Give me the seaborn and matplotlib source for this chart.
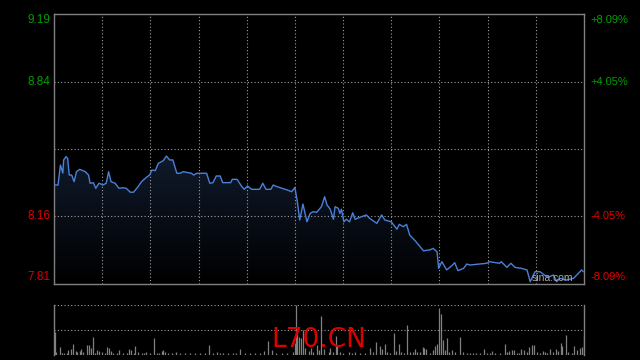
import numpy as np
import pandas as pd
import seaborn as sns
import matplotlib.pyplot as plt
from matplotlib.colors import LinearSegmentedColormap

# ---------------- datos ----------------
# tiempo en minutos desde la apertura (11 divisiones de 60)
t_precio = [0, 1, 5, 8, 11, 12, 15, 17, 19, 22, 25, 28, 32, 39, 43, 45, 49, 52, 56, 61,
            65, 68, 71, 76, 81, 86, 90, 95, 99, 104, 109, 115, 119, 122, 126, 130, 136,
            140, 144, 148, 153, 157, 161, 165, 171, 174, 178, 190, 194, 198, 202, 207,
            210, 220, 222, 228, 234, 237, 241, 246, 256, 260, 264, 270, 273, 278, 288,
            296, 300, 303, 306, 310, 315, 319, 323, 327, 333, 337, 340, 344, 348, 350,
            354, 356, 358, 361, 364, 368, 372, 375, 381, 389, 393, 402, 408, 412, 420,
            427, 430, 435, 439, 443, 450, 460, 468, 472, 477, 479, 483, 489, 495, 499,
            503, 510, 514, 518, 539, 542, 555, 557, 564, 569, 574, 582, 589, 593, 599,
            605, 611, 615, 622, 626, 630, 638, 647, 657, 659]
precio = [8.316, 8.316, 8.316, 8.418, 8.377, 8.444, 8.461, 8.452, 8.367, 8.367, 8.333,
          8.384, 8.396, 8.384, 8.367, 8.325, 8.328, 8.299, 8.325, 8.316, 8.325, 8.384,
          8.333, 8.325, 8.299, 8.302, 8.299, 8.279, 8.279, 8.304, 8.333, 8.355, 8.367,
          8.393, 8.389, 8.427, 8.440, 8.464, 8.444, 8.444, 8.376, 8.376, 8.384, 8.381,
          8.376, 8.367, 8.376, 8.376, 8.325, 8.328, 8.362, 8.362, 8.328, 8.328, 8.345,
          8.345, 8.307, 8.294, 8.311, 8.294, 8.294, 8.325, 8.294, 8.294, 8.316, 8.307,
          8.294, 8.282, 8.304, 8.231, 8.137, 8.219, 8.128, 8.171, 8.180, 8.176, 8.205,
          8.256, 8.214, 8.192, 8.141, 8.205, 8.197, 8.171, 8.192, 8.128, 8.141, 8.128,
          8.174, 8.141, 8.151, 8.163, 8.146, 8.120, 8.163, 8.137, 8.128, 8.090, 8.115,
          8.103, 8.115, 8.060, 8.030, 7.980, 7.984, 7.992, 7.975, 7.890, 7.924, 7.882,
          7.902, 7.919, 7.878, 7.890, 7.912, 7.907, 7.916, 7.924, 7.916, 7.924, 7.895,
          7.916, 7.895, 7.890, 7.882, 7.822, 7.873, 7.873, 7.856, 7.844, 7.856, 7.822,
          7.839, 7.830, 7.839, 7.882, 7.873]

t_vol = [1, 3, 7, 10, 12, 16, 18, 21, 24, 27, 29, 32, 34, 36, 41, 44, 46, 48, 51, 54,
         56, 60, 63, 66, 68, 71, 74, 78, 81, 86, 91, 94, 96, 99, 101, 105, 109, 112, 115,
         120, 124, 128, 131, 134, 136, 138, 142, 147, 152, 157, 163, 169, 176, 182, 188,
         193, 198, 203, 207, 211, 217, 223, 227, 232, 238, 244, 250, 257, 262, 266, 271,
         277, 284, 290, 298, 300, 301, 303, 305, 308, 310, 313, 317, 320, 323, 327, 330,
         333, 336, 342, 344, 348, 351, 353, 356, 360, 367, 371, 375, 381, 387, 393, 397,
         401, 406, 409, 412, 415, 418, 423, 426, 429, 432, 436, 439, 443, 447, 450, 452,
         456, 459, 461, 463, 468, 472, 475, 477, 479, 482, 485, 487, 490, 492, 495, 499,
         505, 509, 514, 518, 522, 526, 531, 535, 539, 543, 545, 549, 555, 562, 564, 567,
         570, 573, 576, 579, 582, 585, 589, 592, 595, 598, 601, 605, 609, 611, 614, 618,
         621, 625, 628, 631, 633, 638, 640, 645, 648, 651, 655, 658, 660]
volumen = [23, 3, 8, 2, 2, 2, 5, 6, 11, 4, 3, 4, 6, 3, 10, 10, 7, 18, 2, 5,
           4, 3, 2, 8, 7, 4, 2, 2, 5, 2, 2, 6, 5, 2, 9, 3, 2, 2, 3,
           2, 17, 2, 2, 4, 5, 3, 2, 2, 3, 2, 2, 2, 2, 2, 2,
           10, 2, 3, 2, 2, 2, 2, 2, 6, 2, 2, 2, 2, 4, 14, 5,
           2, 2, 2, 3, 12, 50, 23, 18, 17, 25, 7, 4, 7, 3, 10, 5,
           39, 6, 3, 7, 3, 19, 10, 3, 2, 3, 2, 3, 2, 2, 7, 3,
           13, 9, 6, 11, 3, 2, 22, 4, 11, 3, 2, 30, 3, 3, 6, 3,
           3, 8, 7, 6, 2, 5, 9, 11, 47, 41, 15, 5, 17, 3, 5, 3,
           18, 3, 2, 2, 2, 2, 2, 6, 2, 2, 4, 2, 2, 11, 3, 4,
           5, 5, 2, 2, 6, 5, 3, 8, 10, 10, 3, 2, 4, 3, 2, 6,
           3, 6, 4, 12, 9, 20, 3, 2, 9, 5, 7, 8, 19]

cierre_previo = 8.50
niveles = [9.19, 8.84, 8.16, 7.81]
pct = ['+8.09%', '+4.05%', '-4.05%', '-8.09%']

df = pd.DataFrame({'t': t_precio, 'precio': precio})

# ---------------- estilo ----------------
sns.set_theme(style='dark', rc={'figure.facecolor': 'black', 'axes.facecolor': 'black'})
plt.rcParams['font.family'] = ['Liberation Sans', 'DejaVu Sans']

fig = plt.figure(figsize=(6.4, 3.6), dpi=100)
ax = fig.add_axes([54/640, 1-284/360, 530/640, 270/360])
axv = fig.add_axes([54/640, 1-355/360, 530/640, 50/360])

gris = '#808080'
punteado = (0, (1, 2))

# ---------------- precio ----------------
sns.lineplot(data=df, x='t', y='precio', ax=ax, color='#4a80d8', linewidth=1.0, zorder=4)

# relleno con degradado bajo la linea
poly = ax.fill_between(df.t, df.precio, niveles[-1], color='none')
cmap = LinearSegmentedColormap.from_list('fondo', ['#000000', '#101a2c'])
grad = np.linspace(0, 1, 256).reshape(-1, 1)
im = ax.imshow(grad, extent=[0, 660, niveles[-1], max(precio)], aspect='auto',
               cmap=cmap, origin='lower', zorder=1)
im.set_clip_path(poly.get_paths()[0], transform=ax.transData)

ax.set_xlim(0, 660)
ax.set_ylim(niveles[-1], niveles[0])
for x in range(60, 660, 60):
    ax.axvline(x, color='#a0a0a0', linestyle=punteado, linewidth=0.8, zorder=2)
for y in [niveles[1], cierre_previo, niveles[2]]:
    ax.axhline(y, color='#a0a0a0', linestyle=punteado, linewidth=0.8, zorder=2)

ax.set_xticks([])
ax.set_yticks([])
ax.set_xlabel('')
ax.set_ylabel('')
for s in ax.spines.values():
    s.set_visible(True)
    s.set_color(gris)
    s.set_linewidth(1.0)

# etiquetas de precio y porcentaje
colores = ['#00a000', '#00a000', '#e00000', '#e00000']
offs = [-0.032, 0, 0, 0.034]
for lv, pc, c, o in zip(niveles, pct, colores, offs):
    ax.text(-0.006, lv + o, f'{lv:.2f}', transform=ax.get_yaxis_transform(),
            ha='right', va='center', color=c, fontsize=8.5)
    ax.text(1.012, lv + o, pc, transform=ax.get_yaxis_transform(),
            ha='left', va='center', color=c, fontsize=8)

# marca de agua de sina (en coordenadas de ejes)
ax.text(0.94, 0.022, 'sina.com', transform=ax.transAxes, color='#a8a8a8',
        fontsize=7.5, ha='center', va='center', zorder=6)

# ---------------- volumen ----------------
axv.vlines(t_vol, 0, volumen, color=gris, linewidth=0.9)
axv.set_xlim(0, 660)
axv.set_ylim(0, 50)
axv.axhline(50, color='#a0a0a0', linestyle=punteado, linewidth=0.8)
axv.axhline(25, color='#a0a0a0', linestyle=punteado, linewidth=0.8)
axv.set_xticks([])
axv.set_yticks([])
for k in ['left', 'right']:
    axv.spines[k].set_visible(True)
    axv.spines[k].set_color(gris)
    axv.spines[k].set_linewidth(1.0)
axv.spines['top'].set_visible(False)
axv.spines['bottom'].set_visible(False)

fig.text(319/640, 1-340/360, 'L70.CN', color='#dd0000', fontsize=19,
         family='DejaVu Sans', ha='center', va='center', zorder=10)

plt.savefig('out.png', dpi=100, facecolor='black')
